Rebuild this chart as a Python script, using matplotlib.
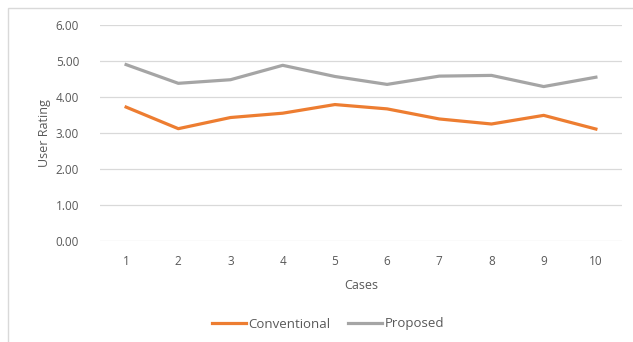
import matplotlib.pyplot as plt
from matplotlib.patches import Rectangle

cases = [1, 2, 3, 4, 5, 6, 7, 8, 9, 10]
conventional = [3.72, 3.12, 3.43, 3.55, 3.79, 3.67, 3.39, 3.25, 3.49, 3.11]
proposed = [4.90, 4.38, 4.48, 4.88, 4.57, 4.35, 4.58, 4.60, 4.29, 4.55]
y_ticks = [0, 1, 2, 3, 4, 5, 6]

text_color = "#595959"
plt.rcParams["font.family"] = ["Open Sans", "DejaVu Sans"]

fig = plt.figure(figsize=(6.33, 3.42), dpi=100)
W, H = 633, 342

# chart area border (clipped on the right and bottom)
fig.patches.append(Rectangle((8 / W, -0.1), 1.2, 1 - 8 / H + 0.1,
                             transform=fig.transFigure, fill=False,
                             edgecolor="#D9D9D9", linewidth=1.0))

ax = fig.add_axes([100 / W, (H - 241) / H, 522 / W, 216 / H])
x = list(range(len(cases)))
ax.plot(x, conventional, color="#ED7D31", linewidth=2.3, label="Conventional",
        solid_joinstyle="round")
ax.plot(x, proposed, color="#A5A5A5", linewidth=2.3, label="Proposed",
        solid_joinstyle="round")

ax.set_xlim(-0.5, len(cases) - 0.5)
ax.set_ylim(0, 6)
ax.set_yticks(y_ticks)
ax.set_yticklabels([f"{v:.2f}" for v in y_ticks])
ax.set_xticks(x)
ax.set_xticklabels([str(c) for c in cases])
ax.grid(axis="y", color="#D9D9D9", linewidth=0.9)
ax.set_axisbelow(True)
for s in ax.spines.values():
    s.set_visible(False)
ax.tick_params(length=0, labelsize=8.5, colors=text_color)
ax.tick_params(axis="y", pad=15)
ax.tick_params(axis="x", pad=10)

ax.set_xlabel("Cases", fontsize=9, color=text_color, labelpad=8)
ax.set_ylabel("User Rating", fontsize=9, color=text_color, labelpad=3)

fig.legend(loc="center", bbox_to_anchor=(328 / W, 1 - 324 / H), ncol=2,
           frameon=False, fontsize=9.5, labelcolor=text_color,
           handlelength=2.6, handletextpad=0.2, columnspacing=1.3)

fig.savefig("out.png", dpi=100)
